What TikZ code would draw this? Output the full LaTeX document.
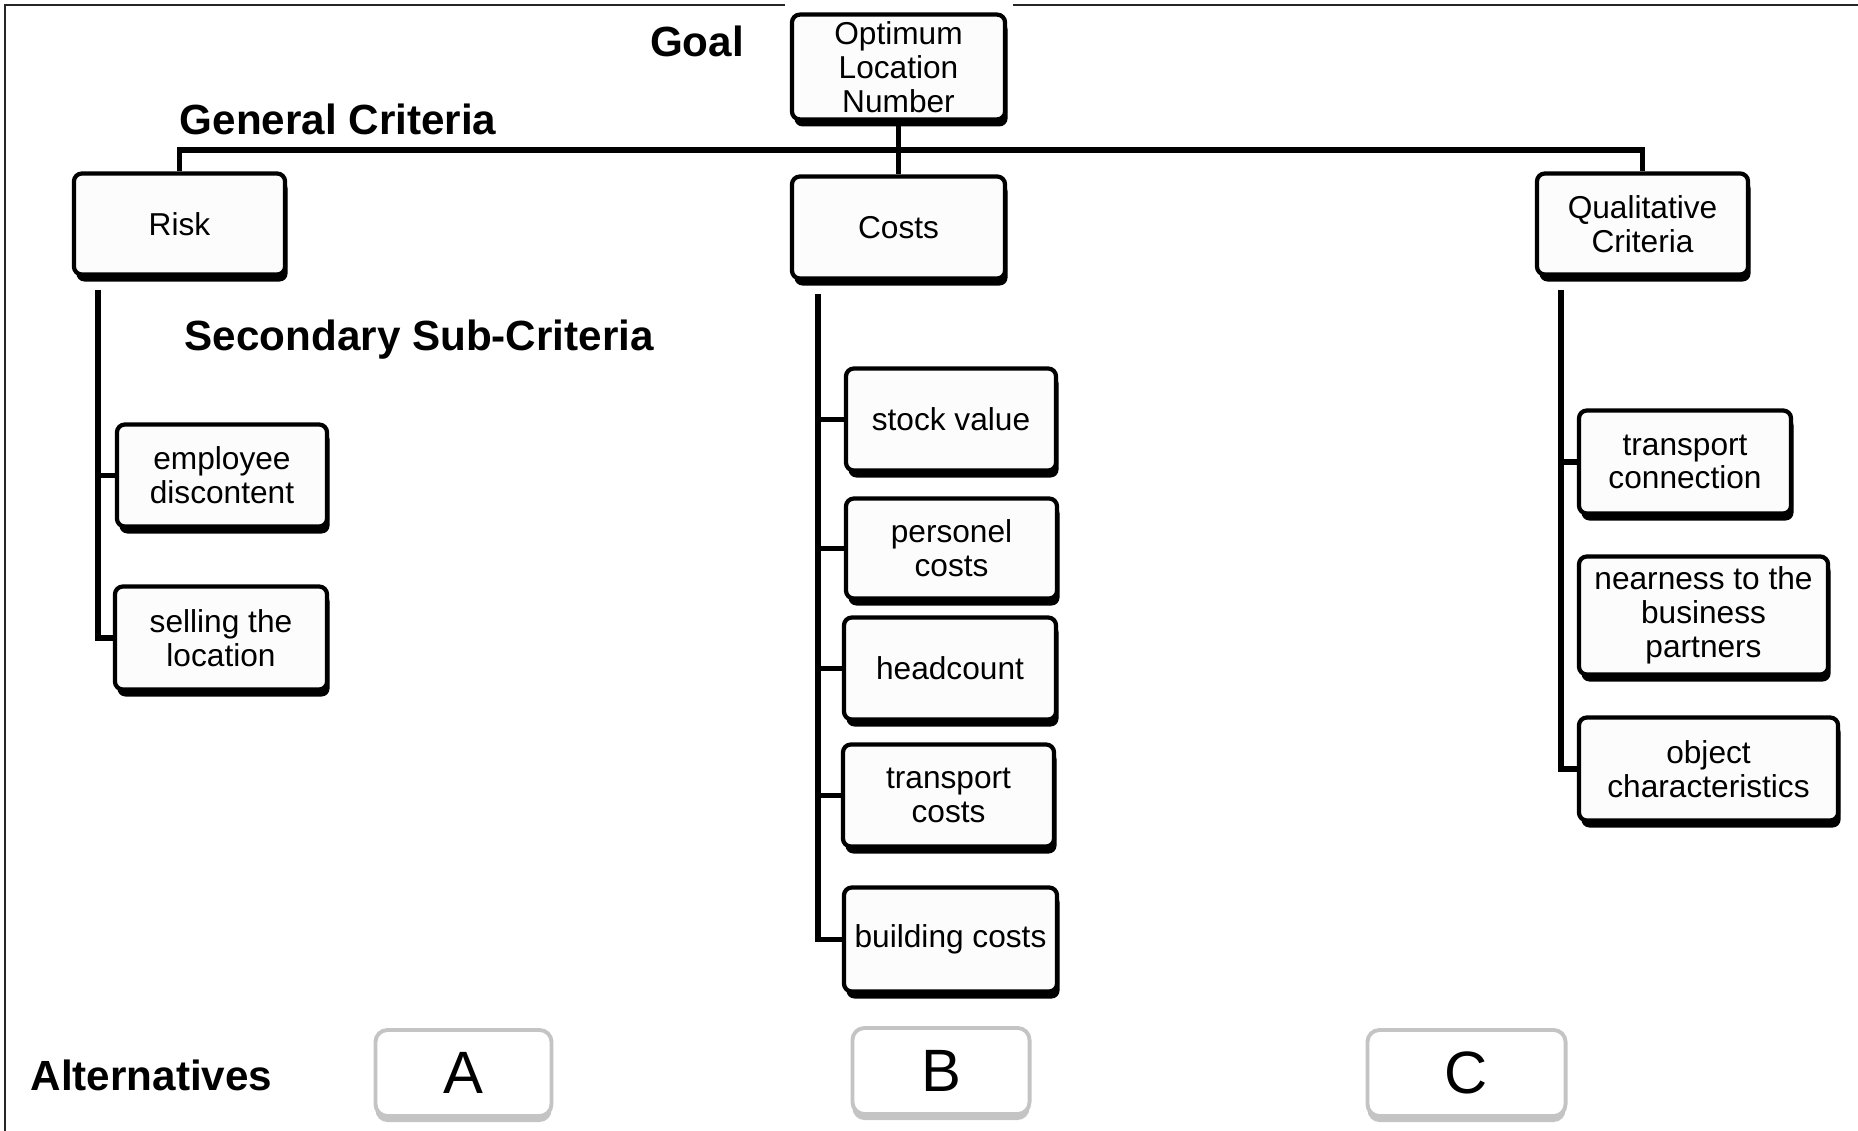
\documentclass[tikz,border=0pt]{standalone}
\usepackage{fontspec}
\setmainfont{Liberation Sans}
\usetikzlibrary{positioning,shadows}
\definecolor{BoxFill}{HTML}{FCFCFC}
\definecolor{AltGray}{HTML}{C4C4C4}
\tikzset{
  critbox/.style={draw=black,line width=1.2pt,rounded corners=0.8mm,fill=BoxFill,align=center,inner sep=2pt,font=\fontsize{9}{9.6}\selectfont,drop shadow={shadow xshift=0.25mm,shadow yshift=-0.7mm,fill=black,opacity=1}},
  altbox/.style={draw=AltGray,line width=1.1pt,rounded corners=1.2mm,fill=white,minimum height=0.86cm,font=\fontsize{17}{17}\selectfont,drop shadow={shadow xshift=0mm,shadow yshift=-0.6mm,fill=AltGray,opacity=1}},
  headtext/.style={font=\fontsize{12}{14}\selectfont\bfseries,inner sep=0pt},
  treeline/.style={line width=1.5pt,draw=black},
  frameline/.style={line width=0.7pt,draw=black!85}
}

\begin{document}
\begin{tikzpicture}[x=0.01cm,y=-0.01cm]
\useasboundingbox (0,0) rectangle (1858,1131);
% frame
\draw[frameline] (5,1131) -- (5,5) -- (785,5);
\draw[frameline] (1013,5) -- (1858,5);
% goal and general criteria
\node[critbox,minimum width=2.13cm,minimum height=1.03cm] (goal) at (898.5,67) {Optimum\\Location\\Number};
\node[critbox,minimum width=2.11cm,minimum height=1.01cm] (risk) at (179.5,224) {Risk};
\node[critbox,minimum width=2.13cm,minimum height=1.02cm] (costs) at (898.5,227.5) {Costs};
\node[critbox,minimum width=2.11cm,minimum height=1.01cm] (qual) at (1642.5,224) {Qualitative\\Criteria};
% sub-criteria
\node[critbox,minimum width=2.10cm,minimum height=1.02cm] (emp) at (222,475.5) {employee\\discontent};
\node[critbox,minimum width=2.12cm,minimum height=1.03cm] (sell) at (221,638) {selling the\\location};
\node[critbox,minimum width=2.10cm,minimum height=1.02cm] (stock) at (951,419.5) {stock value};
\node[critbox,minimum width=2.11cm,minimum height=1.00cm] (pers) at (951.5,548.5) {personel\\costs};
\node[critbox,minimum width=2.12cm,minimum height=1.02cm] (head) at (950,668.5) {headcount};
\node[critbox,minimum width=2.11cm,minimum height=1.02cm] (tcost) at (948.5,795.5) {transport\\costs};
\node[critbox,minimum width=2.13cm,minimum height=1.04cm] (build) at (950.5,939.5) {building costs};
\node[critbox,minimum width=2.12cm,minimum height=1.03cm] (tconn) at (1685,462) {transport\\connection};
\node[critbox,minimum width=2.49cm,minimum height=1.18cm] (near) at (1703.5,615.5) {nearness to the\\business\\partners};
\node[critbox,minimum width=2.59cm,minimum height=1.03cm] (obj) at (1708.5,769) {object\\characteristics};
% alternatives
\node[altbox,minimum width=1.76cm] (altA) at (463.5,1073) {A};
\node[altbox,minimum width=1.77cm] (altB) at (941,1071) {B};
\node[altbox,minimum width=1.98cm] (altC) at (1466.5,1073) {C};
% level labels
\node[headtext] (goallbl) at (697,41) {Goal};
\node[headtext,anchor=west] (genlbl) at (179,119) {General Criteria};
\node[headtext,anchor=west] (seclbl) at (184,340) {Secondary Sub-Criteria};
\node[headtext,anchor=west] (altlbl) at (30,1075) {Alternatives};
% tree lines
\coordinate (bus) at (898.5,150);
\draw[treeline] (risk.north) |- (bus) -| (qual.north);
\draw[treeline] (goal.south) -- (costs.north);
\coordinate (riskspine) at (98,290);
\draw[treeline] (riskspine) |- (sell.west);
\draw[treeline] (riskspine |- emp.west) -- (emp.west);
\coordinate (costspine) at (818,294);
\draw[treeline] (costspine) |- (build.west);
\foreach \n in {stock,pers,head,tcost}
  \draw[treeline] (costspine |- \n.west) -- (\n.west);
\coordinate (qualspine) at (1561,290);
\draw[treeline] (qualspine) |- (obj.west);
\draw[treeline] (qualspine |- tconn.west) -- (tconn.west);
\end{tikzpicture}
\end{document}
